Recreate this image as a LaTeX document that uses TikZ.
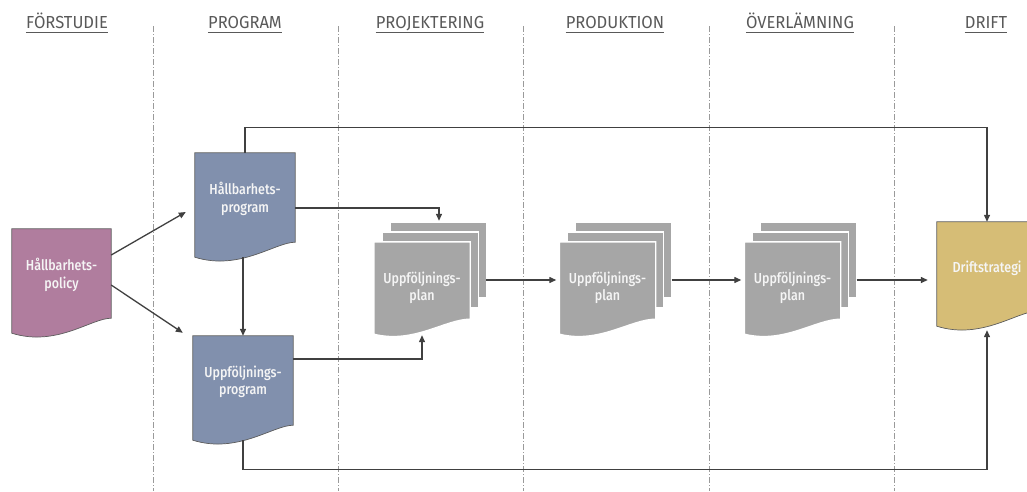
\documentclass[tikz,border=0pt]{standalone}
\usepackage{fontspec}
\setmainfont{Fira Sans}[FakeStretch=0.95]
\newfontfamily\boxfont{Fira Sans}[UprightFont=* Medium, FakeStretch=0.86]
\usetikzlibrary{arrows.meta,backgrounds}
\definecolor{hdrcol}{HTML}{595959}
\definecolor{linecol}{HTML}{404040}
\definecolor{divcol}{HTML}{9A9A9A}
\definecolor{polfill}{HTML}{B07D9E}
\definecolor{progfill}{HTML}{8190AD}
\definecolor{stackfill}{HTML}{A6A6A6}
\definecolor{driftfill}{HTML}{D6BD76}
\definecolor{boxtext}{HTML}{F5F5F5}
\begin{document}
\begin{tikzpicture}[x=1pt,y=-1pt,
  hdr/.style={inner sep=0pt,anchor=base,text=hdrcol,font=\fontsize{17.4}{21}\selectfont},
  hdrline/.style={draw=hdrcol,line width=0.9pt},
  divider/.style={draw=divcol,line width=0.8pt,dash pattern=on 6pt off 2pt on 1pt off 2pt},
  docnode/.style={minimum width=100pt,minimum height=92pt,inner sep=0pt,align=center,text=boxtext,font=\boxfont\fontsize{14.5}{17.5}\selectfont},
  stacknode/.style={docnode,minimum width=96pt},
  docedge/.style={draw=linecol!85,line width=0.7pt},
  sheet/.style={fill=stackfill,draw=white,line width=1.4pt},
  arr/.style={draw=linecol,line width=1.3pt,-{Triangle[length=7pt,width=6pt]}},
  conn/.style={draw=linecol,line width=1.3pt}
]
\useasboundingbox (0,0) rectangle (1027,491);

% headers
\node[hdr] (h1) at (67,28) {FÖRSTUDIE};
\node[hdr] (h2) at (245,28) {PROGRAM};
\node[hdr] (h3) at (430,28) {PROJEKTERING};
\node[hdr] (h4) at (615,28) {PRODUKTION};
\node[hdr] (h5) at (800,28) {ÖVERLÄMNING};
\node[hdr] (h6) at (986,28) {DRIFT};
\foreach \h in {h1,h2,h3,h4,h5,h6}
  \draw[hdrline] ([yshift=-4pt]\h.base west) -- ([yshift=-4pt]\h.base east);

% dividers
\foreach \x in {153,338,523,709,894}
  \draw[divider] (\x,26) -- (\x,491);

% document nodes
\node[docnode,minimum width=99pt] (pol) at (61.5,275) {Hållbarhets-\\policy};
\node[docnode] (hp) at (245,199) {Hållbarhets-\\program};
\node[docnode] (upp) at (243,382) {Uppföljnings-\\program};
\node[docnode] (dr) at (987,268) {Driftstrategi};
\node[stacknode] (s1) at (422,288) {Uppföljnings-\\plan};
\node[stacknode] (s2) at (607.5,288) {Uppföljnings-\\plan};
\node[stacknode] (s3) at (792.5,288) {Uppföljnings-\\plan};

\begin{pgfonlayer}{background}
  \foreach \n/\c in {pol/polfill,hp/progfill,upp/progfill,dr/driftfill}{
    \filldraw[docedge,fill=\c] (\n.north west) -- (\n.north east) -- ([yshift=3pt]\n.south east)
      .. controls +(-20,0) and +(45,14) .. ([yshift=-12pt]\n.south west) -- cycle;
  }
  \foreach \n in {s1,s2,s3}{
    \filldraw[sheet] ([shift={(16,-20)}]\n.north west) rectangle ([shift={(16,56)}]\n.north east);
    \filldraw[sheet] ([shift={(8,-10)}]\n.north west) rectangle ([shift={(8,66)}]\n.north east);
    \filldraw[sheet] (\n.north west) -- (\n.north east) -- ([yshift=15pt]\n.south east)
      .. controls +(-25,0) and +(40,10) .. (\n.south west) -- cycle;
  }
\end{pgfonlayer}

% connector points
\coordinate (s1out) at ([shift={(16,-8)}]s1.east);
\coordinate (s2out) at ([shift={(16,-8)}]s2.east);
\coordinate (s3out) at ([shift={(16,-8)}]s3.east);
\coordinate (s1top) at ([shift={(17,-21)}]s1.north);
\coordinate (s1bot) at ([yshift=-1pt]s1.south);
\coordinate (hpb) at ([yshift=-12pt]hp.south);
\coordinate (uppb) at ([yshift=-12pt]upp.south);
\coordinate (drb) at ([yshift=-16pt]dr.south);
\coordinate (hpin) at ([shift={(-9,13)}]hp.west);
\coordinate (uppin) at ([shift={(-10,-3)}]upp.north west);

% connectors
\draw[arr] ([yshift=20pt]pol.east) -- (hpin);
\draw[arr] ([yshift=-10pt]pol.east) -- (uppin);
\draw[arr] (upp.north |- hpb) -- (upp.north);
\draw[arr] (hp.north) -- ++(0,-25) -| (dr.north);
\draw[arr] ([yshift=-9pt]hp.east) -| (s1top);
\draw[arr] ([yshift=23pt]upp.east) -| (s1bot);
\draw[arr] (uppb) -- ++(0,29) -| (drb);
\draw[arr,shorten >=3pt] (s1out) -- (s2.west |- s1out);
\draw[arr,shorten >=3pt] (s2out) -- (s3.west |- s2out);
\draw[arr,shorten >=9pt] (s3out) -- (dr.west |- s3out);
\end{tikzpicture}
\end{document}
